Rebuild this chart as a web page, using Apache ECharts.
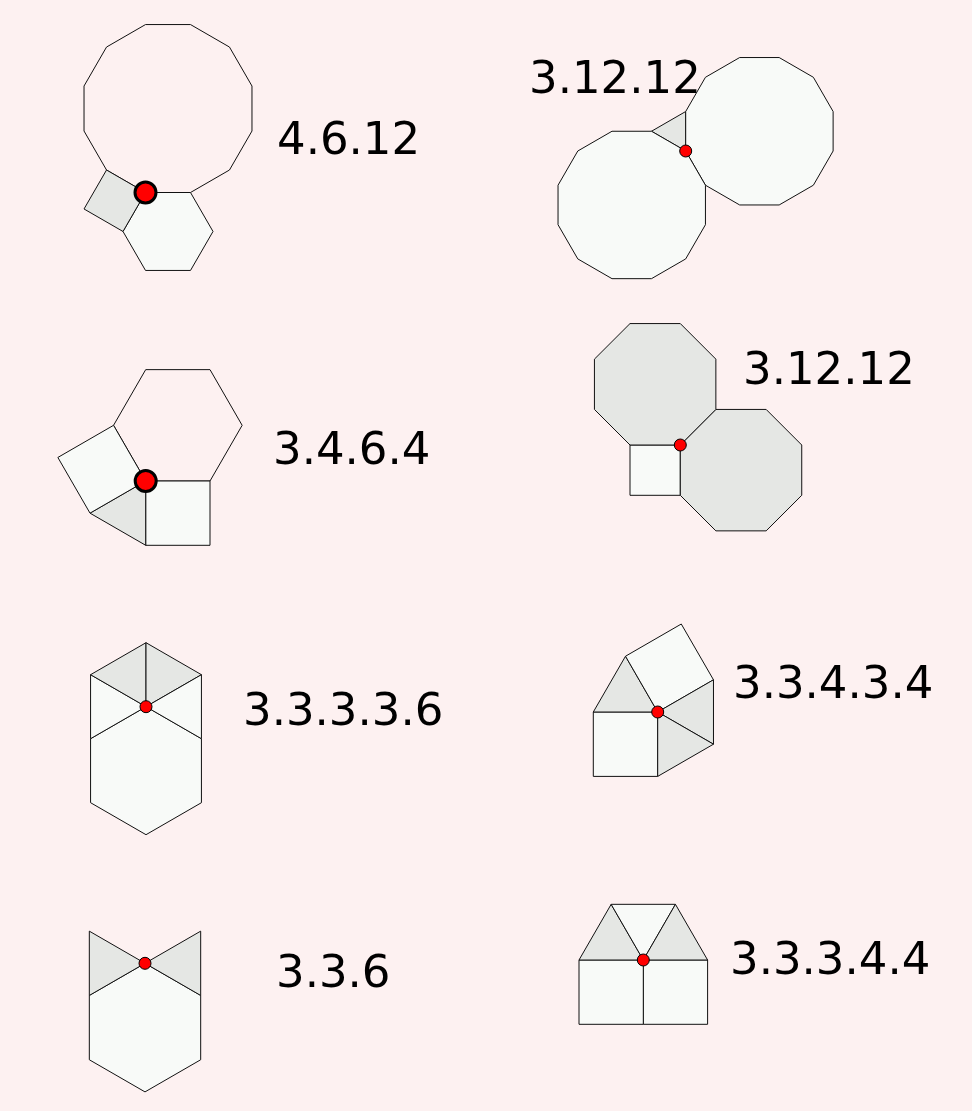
<!DOCTYPE html>
<html>
<head>
<meta charset="utf-8">
<script src="https://cdn.jsdelivr.net/npm/echarts@6/dist/echarts.min.js"></script>
<style>
  html, body { margin: 0; padding: 0; background: #fdf1f1; }
  #main { width: 972px; height: 1111px; }
</style>
</head>
<body>
<div id="main"></div>
<script>
// vertex figures: one shared vertex, regular polygons around it

var figureNames = ['4.6.12', '3.12.12', '3.12.12', '3.4.6.4', '3.3.3.3.6', '3.3.4.3.4', '3.3.6', '3.3.3.4.4'];
var vertexX = [145.5, 685.7, 680.3, 145.7, 146, 657.7, 145, 643.3];
var vertexY = [192.5, 151, 445, 481, 706.7, 712, 963.3, 960];
var edgeLength = [45, 39.5, 50.3, 64.3, 64, 64.4, 64.3, 64.3];
// number of sides of each polygon around the vertex
var pieceSides = [[12, 6, 4], [3, 12, 12], [4, 8, 8], [6, 4, 3, 4], [6, 3, 3, 3, 3], [4, 3, 4, 3, 3], [6, 3, 3], [4, 4, 3, 3, 3]];
// direction (deg, clockwise on screen) of the first edge leaving the vertex
var pieceAngle = [[210, 0, 120], [210, 270, 60], [90, 315, 180], [240, 0, 90, 150], [30, 150, 210, 270, 330], [90, 180, 240, 330, 30], [30, 150, 330], [0, 90, 180, 240, 300]];
var pieceShade = [['none', 'light', 'grey'], ['grey', 'light', 'light'], ['light', 'grey', 'grey'], ['none', 'light', 'grey', 'light'], ['light', 'light', 'grey', 'grey', 'light'], ['light', 'grey', 'light', 'grey', 'grey'], ['light', 'grey', 'grey'], ['light', 'light', 'grey', 'light', 'grey']];
var labelX = [277, 529, 743, 273, 243, 733, 276, 730];
var labelY = [154, 93, 384, 464, 725, 698, 987, 974];

var shadeColor = { none: 'transparent', light: '#f8faf8', grey: '#e5e7e4' };

var pieceData = [];
for (var f = 0; f < pieceSides.length; f++) {
    for (var p = 0; p < pieceSides[f].length; p++) {
        pieceData.push([f, p]);
    }
}
var dotData = [];
var labelData = [];
for (var i = 0; i < figureNames.length; i++) {
    dotData.push({
        value: [vertexX[i], vertexY[i]],
        symbolSize: (i === 0 || i === 3) ? 21 : 12,
        itemStyle: { borderWidth: (i === 0 || i === 3) ? 3 : 1 }
    });
    labelData.push([labelX[i], labelY[i], i]);
}

var chart = echarts.init(document.getElementById('main'));
var option = {
    backgroundColor: '#fdf1f1',
    animation: false,
    grid: { left: 0, right: 0, top: 0, bottom: 0 },
    xAxis: { type: 'value', min: 0, max: 972, show: false },
    yAxis: { type: 'value', min: 0, max: 1111, inverse: true, show: false },
    series: [
        {
            type: 'custom',
            data: pieceData,
            silent: true,
            renderItem: function (params, api) {
                var f = api.value(0), p = api.value(1);
                var n = pieceSides[f][p];
                var s = edgeLength[f];
                var x = vertexX[f], y = vertexY[f];
                var pts = [];
                for (var k = 0; k < n; k++) {
                    pts.push(api.coord([x, y]));
                    var a = (pieceAngle[f][p] + k * 360 / n) * Math.PI / 180;
                    x += s * Math.cos(a);
                    y += s * Math.sin(a);
                }
                return {
                    type: 'polygon',
                    shape: { points: pts },
                    style: { fill: shadeColor[pieceShade[f][p]], stroke: '#111', lineWidth: 1 }
                };
            }
        },
        {
            type: 'scatter',
            data: dotData,
            silent: true,
            itemStyle: { color: '#ff0000', borderColor: '#000', opacity: 1 }
        },
        {
            type: 'custom',
            data: labelData,
            silent: true,
            renderItem: function (params, api) {
                var pt = api.coord([api.value(0), api.value(1)]);
                return {
                    type: 'text',
                    style: {
                        x: pt[0],
                        y: pt[1] - 12,
                        text: figureNames[api.value(2)],
                        font: '45px "DejaVu Sans"',
                        fill: '#000',
                        align: 'left',
                        verticalAlign: 'middle'
                    }
                };
            }
        }
    ]
};
chart.setOption(option);
</script>
</body>
</html>
